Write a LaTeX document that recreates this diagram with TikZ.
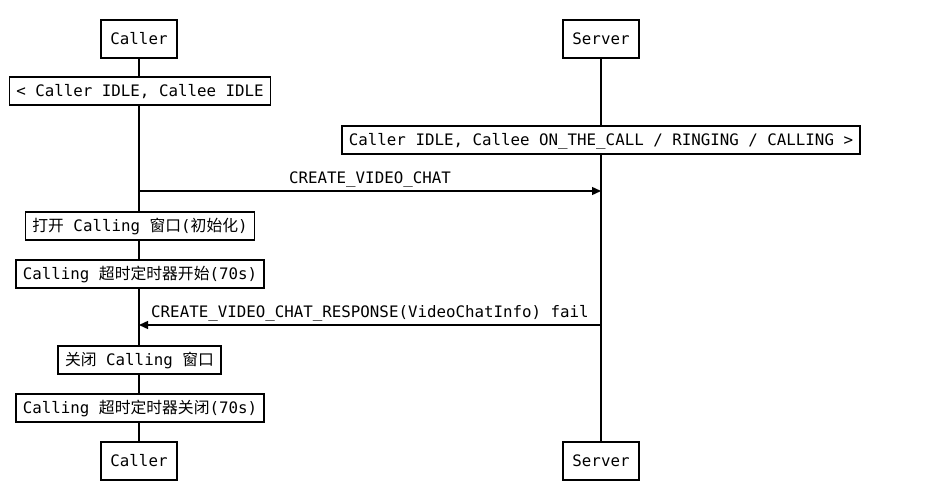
\documentclass[tikz,border=0pt]{standalone}
\usepackage{fontspec}
\setmainfont{DejaVu Sans Mono}
\newfontfamily\cjk{Noto Sans CJK SC}
\newcommand{\zh}[1]{{\cjk #1}}
\usetikzlibrary{arrows.meta,backgrounds}
\tikzset{
  actor/.style={draw, line width=1.4pt, fill=white, minimum width=76pt, minimum height=38pt, inner sep=0pt, text height=11.5pt, text depth=0pt},
  state/.style={draw, line width=1.4pt, fill=white, minimum height=28pt, inner xsep=7pt, inner ysep=0pt, text height=11.5pt, text depth=0pt},
  msg/.style={line width=1.4pt, -{Triangle[length=9pt,width=8pt]}},
  life/.style={line width=1.4pt},
  lbl/.style={inner sep=0pt, anchor=south}
}
\begin{document}
\begin{tikzpicture}[x=1pt,y=-1pt,font=\fontsize{15.8}{18}\selectfont]
\useasboundingbox (0,0) rectangle (939,500);
\node[actor] (c1) at (139,39) {Caller};
\node[actor] (s1) at (601,39) {Server};
\node[actor] (c2) at (139,461) {Caller};
\node[actor] (s2) at (601,461) {Server};
\node[state] (st1) at (140,91) {< Caller IDLE, Callee IDLE};
\node[state] (st2) at (601,140) {Caller IDLE, Callee ON\_THE\_CALL / RINGING / CALLING >};
\node[state] (b1) at (140,226) {\zh{打开} Calling \zh{窗口}(\zh{初始化})};
\node[state] (b2) at (140,274) {Calling \zh{超时定时器开始}(70s)};
\node[state] (b3) at (139.5,360) {\zh{关闭} Calling \zh{窗口}};
\node[state] (b4) at (140,408) {Calling \zh{超时定时器关闭}(70s)};
\coordinate (a1s) at (139,191);
\coordinate (a1e) at (601,191);
\coordinate (a2s) at (601,325);
\coordinate (a2e) at (139,325);
\begin{pgfonlayer}{background}
\draw[life] (c1.south) -- (c2.north);
\draw[life] (s1.south) -- (s2.north);
\end{pgfonlayer}
\draw[msg] (a1s) -- node[lbl, above=3pt] {CREATE\_VIDEO\_CHAT} (a1e);
\draw[msg] (a2s) -- node[lbl, above=3pt] {CREATE\_VIDEO\_CHAT\_RESPONSE(VideoChatInfo) fail} (a2e);
\end{tikzpicture}
\end{document}
